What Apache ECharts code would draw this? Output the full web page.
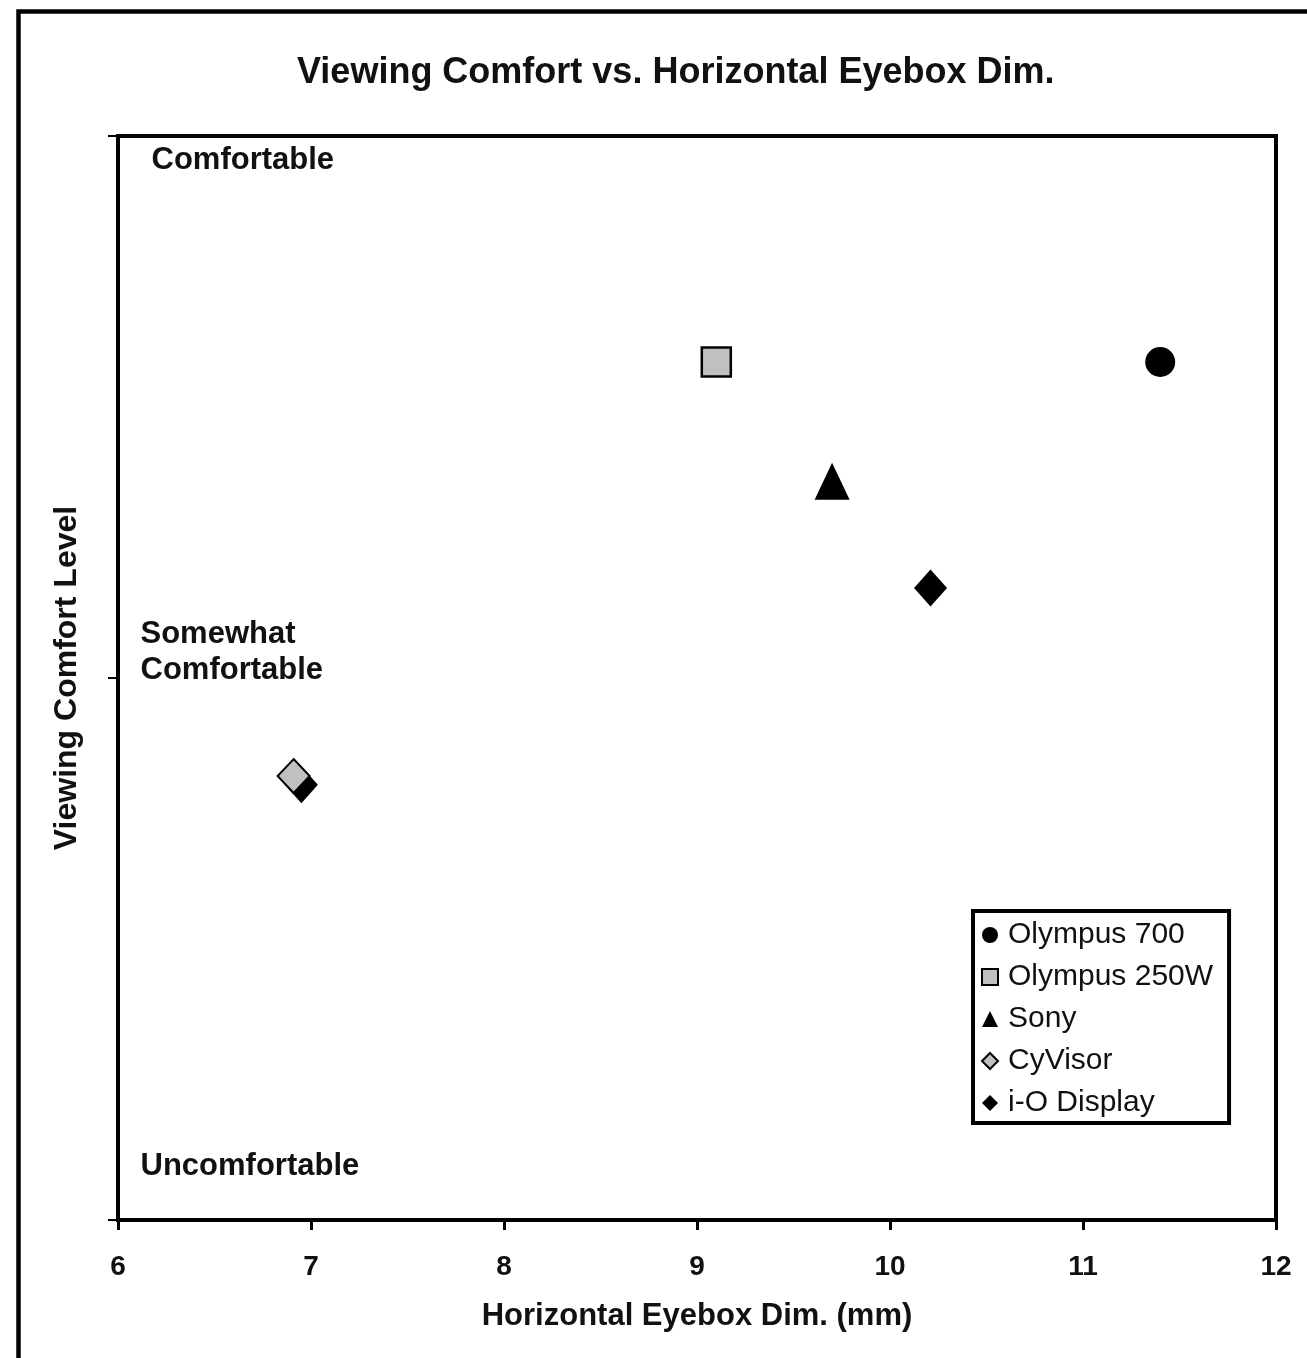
<!DOCTYPE html>
<html>
<head>
<meta charset="utf-8">
<script src="https://cdn.jsdelivr.net/npm/echarts@6/dist/echarts.min.js"></script>
<style>
html,body{margin:0;padding:0;background:#fff;}
#chart{width:1307px;height:1358px;}
</style>
</head>
<body>
<div id="chart"></div>
<script>
// ---- data ----
const chartTitle = 'Viewing Comfort vs. Horizontal Eyebox Dim.';
const xAxisTitle = 'Horizontal Eyebox Dim. (mm)';
const yAxisTitle = 'Viewing Comfort Level';
const levelValues = [0, 1, 2];
const levelLabels = ['Uncomfortable', 'Somewhat\nComfortable', 'Comfortable'];
const seriesNames = ['Olympus 700', 'Olympus 250W', 'Sony', 'CyVisor', 'i-O Display'];
const olympus700 = [[11.40, 1.583]];
const olympus250W = [[9.10, 1.583]];
const sony = [[9.70, 1.363]];
const cyVisor = [[6.91, 0.819]];
const ioDisplay = [[10.21, 1.166], [6.95, 0.803]];

const FONT = '"Liberation Sans", Arial, Helvetica, sans-serif';
const GRAY = '#c0c0c0';

const labelStyles = [
  { position: [23, -53] },
  { position: [23, -25] },
  { position: [34, 25] }
];

const annotationData = levelValues.map((v, i) => ({
  name: levelLabels[i],
  value: [6, v],
  label: Object.assign({
    show: true,
    formatter: '{b}',
    align: 'left',
    verticalAlign: 'middle',
    fontFamily: FONT,
    fontWeight: 'bold',
    fontSize: 31,
    lineHeight: 36,
    color: '#111',
    opacity: 1
  }, labelStyles[i])
}));

const chart = echarts.init(document.getElementById('chart'), null, { renderer: 'canvas' });

chart.setOption({
  backgroundColor: '#fff',
  animation: false,
  title: {
    text: chartTitle,
    left: 297,
    top: 55,
    padding: 0,
    textStyle: { fontFamily: FONT, fontWeight: 'bold', fontSize: 36, color: '#111' }
  },
  graphic: [{
    type: 'rect',
    shape: { x: 18.5, y: 11.5, width: 1400, height: 1400 },
    style: { fill: null, stroke: '#000', lineWidth: 4.5 },
    silent: true,
    z: 100
  }],
  legend: {
    data: seriesNames,
    orient: 'vertical',
    left: 973,
    top: 911,
    padding: [9, 16, 5, 8],
    itemGap: 12,
    itemWidth: 16,
    itemHeight: 16,
    borderColor: '#000',
    borderWidth: 4,
    backgroundColor: '#fff',
    textStyle: { fontFamily: FONT, fontSize: 30, color: '#111', padding: [0, 0, 0, 5] },
    selectedMode: false
  },
  grid: {
    left: 118,
    right: 31,
    top: 136,
    bottom: 138,
    show: true,
    borderColor: '#000',
    borderWidth: 4,
    backgroundColor: '#fff',
    containLabel: false,
    outerBoundsMode: 'none'
  },
  xAxis: {
    type: 'value',
    min: 6,
    max: 12,
    interval: 1,
    name: xAxisTitle,
    nameLocation: 'middle',
    nameGap: 81,
    nameTextStyle: { fontFamily: FONT, fontWeight: 'bold', fontSize: 31, color: '#111' },
    axisLine: { show: true, onZero: false, lineStyle: { color: '#000', width: 4 } },
    axisTick: { show: true, inside: false, length: 10, lineStyle: { color: '#000', width: 3 } },
    axisLabel: { margin: 33, fontFamily: FONT, fontWeight: 'bold', fontSize: 28, color: '#111' },
    splitLine: { show: false }
  },
  yAxis: {
    type: 'value',
    min: 0,
    max: 2,
    interval: 1,
    name: yAxisTitle,
    nameLocation: 'middle',
    nameGap: 35,
    nameTextStyle: { fontFamily: FONT, fontWeight: 'bold', fontSize: 32, color: '#111' },
    axisLine: { show: true, onZero: false, lineStyle: { color: '#000', width: 4 } },
    axisTick: { show: true, inside: false, length: 10, lineStyle: { color: '#000', width: 2 } },
    axisLabel: { show: false },
    splitLine: { show: false }
  },
  series: [
    {
      name: 'levels',
      type: 'scatter',
      symbol: 'circle',
      symbolSize: 1,
      itemStyle: { color: 'rgba(0,0,0,0)', opacity: 1 },
      clip: false,
      silent: true,
      z: 6,
      data: annotationData
    },
    {
      name: seriesNames[0], type: 'scatter', symbol: 'circle', symbolSize: 30, z: 3,
      itemStyle: { color: '#000', opacity: 1 },
      data: olympus700
    },
    {
      name: seriesNames[1], type: 'scatter', symbol: 'rect', symbolSize: 29, z: 3,
      itemStyle: { color: GRAY, borderColor: '#000', borderWidth: 2.5, opacity: 1 },
      data: olympus250W
    },
    {
      name: seriesNames[2], type: 'scatter', symbol: 'triangle', symbolSize: [35, 37], z: 3,
      itemStyle: { color: '#000', opacity: 1 },
      data: sony
    },
    {
      name: seriesNames[3], type: 'scatter', symbol: 'diamond', symbolSize: [32, 34], z: 5,
      itemStyle: { color: GRAY, borderColor: '#000', borderWidth: 2, opacity: 1 },
      data: cyVisor
    },
    {
      name: seriesNames[4], type: 'scatter', symbol: 'diamond', symbolSize: [33, 37], z: 4,
      itemStyle: { color: '#000', opacity: 1 },
      data: ioDisplay
    }
  ]
});
</script>
</body>
</html>
